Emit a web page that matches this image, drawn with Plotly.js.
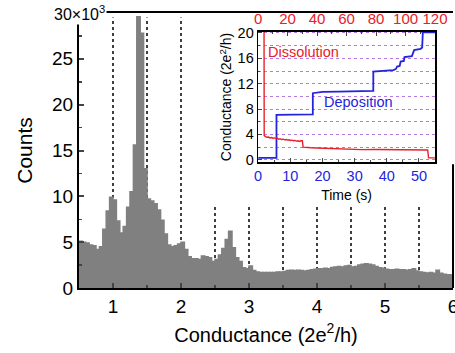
<!DOCTYPE html>
<html><head><meta charset="utf-8">
<script src="https://cdn.plot.ly/plotly-3.0.1.min.js"></script>
<style>html,body{margin:0;padding:0;background:#fff}</style>
</head><body><div id="chart" style="width:455px;height:353px"></div>
<script>
// Histogram: first bin centre and bin width (conductance, 2e^2/h)
const firstBinCenter = 0.525;
const binWidth = 0.05;
const counts = [
  5100,5000,4900,4700,4600,4200,4500,6400,8400,9900,9600,7300,6000,6700,
  8800,10500,15600,29600,27800,13000,
  9700,9500,9200,8500,7400,5900,4700,4500,4600,4800,
  5000,4200,3400,3200,3200,3100,3500,3400,3300,2900,
  3100,3600,4300,5300,6200,4400,3300,2900,2200,2100,
  2400,1900,1750,1700,1700,1700,1700,1700,1750,1750,
  1800,1900,1950,1900,1950,1900,1850,1900,2000,2050,
  2100,2100,2150,2100,2250,2300,2350,2300,2400,2450,
  2300,2350,2500,2600,2650,2600,2500,2350,2200,2150,
  2050,2000,2000,2050,2000,2000,1950,2000,2100,1850,
  1750,1700,1650,1700,1600,1950,1600,1500,1450,1450
];
const refLinePos = [1,1.5,2,2.5,3,3.5,4,4.5,5,5.5];
const refLineTop = [29500,29500,29500,9000,9000,9000,9000,9000,9000,9000];
const yTickVals = [0,5000,10000,15000,20000,25000];
const yTickText = ['0','5','10','15','20','25'];
const xTickVals = [1,2,3,4,5,6];

// Inset: dissolution (top time axis, 0-120) and deposition (bottom time axis, 0-55 s)
const dissTime = [4.0,4.1,5,6,7,8,9,10,11,12,13,14,15,16,17,18,19,20,21,22,23,24,25,26,27,28,29,30,30.5,32,34,36,40,45,50,55,60,70,80,90,100,110,115,115.6,120];
const dissG    = [20.3,3.8,3.65,3.55,3.6,3.45,3.5,3.4,3.45,3.35,3.4,3.25,3.3,3.2,3.25,3.15,3.2,3.1,3.15,3.05,3.1,3.0,3.05,2.95,3.0,2.9,3.0,3.0,2.0,1.95,1.9,1.9,1.85,1.8,1.7,1.65,1.62,1.6,1.62,1.6,1.62,1.6,1.55,0.3,0.3];
const depTime  = [0,5.7,5.7,17.0,17.0,18,20,25,30,35.8,35.8,38,40,42,42.8,43.2,44,44.3,45.3,45.5,47.8,48.5,50.5,51,51.2,55];
const depG     = [0.3,0.3,7.1,7.15,10.5,10.6,10.7,10.75,10.8,10.85,13.9,14.0,14.05,14.15,14.3,14.7,14.8,15.5,15.6,16.2,16.35,17.3,17.5,17.7,20.1,20.1];

const FONT = 'Liberation Sans, Arial, Helvetica, sans-serif';
const RED = '#e8202a', BLUE = '#2424dc', GRID = '#b47ae6';

const traces = [
  {type:'bar', x0:firstBinCenter, dx:binWidth, y:counts, marker:{color:'#808080', line:{width:1.5, color:'#808080'}},
   xaxis:'x', yaxis:'y', hoverinfo:'skip'},
  {type:'scatter', mode:'lines', x:dissTime, y:dissG, xaxis:'x3', yaxis:'y2',
   line:{color:RED, width:1.4}},
  {type:'scatter', mode:'lines', x:depTime, y:depG, xaxis:'x2', yaxis:'y2',
   line:{color:BLUE, width:1.8}}
];

const shapes = refLinePos.map((p,i)=>({type:'line', layer:'below', xref:'x', yref:'y',
  x0:p, x1:p, y0:0, y1:refLineTop[i], line:{color:'#000', width:1.5, dash:'dot'}}));
// right frame edge of the main plot (hidden behind the inset area at the top)
shapes.push({type:'line', xref:'paper', yref:'y', x0:1, x1:1, y0:0, y1:13500, line:{color:'#000', width:2}});

const layout = {
  width:455, height:353, showlegend:false,
  margin:{l:79, r:2, t:13, b:65},
  paper_bgcolor:'#fff', plot_bgcolor:'#fff',
  font:{family:FONT, color:'#000'},
  bargap:0,
  xaxis:{domain:[0,1], range:[0.5,6.0], tickvals:xTickVals, ticks:'inside', ticklen:5, tickwidth:2,
    minor:{dtick:0.5, tick0:0.5, ticks:'inside', ticklen:3, tickwidth:1.5},
    showline:true, linewidth:2, linecolor:'#000', mirror:true, showgrid:false, zeroline:false,
    ticklabeloverflow:'allow',
    tickfont:{size:19}, title:{text:'Conductance (2e<sup>2</sup>/h)', font:{size:20}, standoff:12}},
  yaxis:{domain:[0,1], range:[0,30000], tickvals:yTickVals, ticktext:yTickText, ticks:'inside', ticklen:5, tickwidth:2,
    minor:{dtick:2500, ticks:'inside', ticklen:3, tickwidth:1.5},
    showline:true, linewidth:2, linecolor:'#000', mirror:false, showgrid:false, zeroline:false,
    tickfont:{size:19}, title:{text:'Counts', font:{size:21}, standoff:14}},
  xaxis2:{domain:[0.479,0.952], anchor:'y2', range:[0,55], dtick:10, ticks:'inside', ticklen:4, tickwidth:1,
    minor:{dtick:5, ticks:'inside', ticklen:2},
    showline:true, linewidth:1.5, linecolor:'#000', mirror:true, showgrid:false, zeroline:false,
    tickfont:{size:14.5, color:BLUE}, title:{text:'Time (s)', font:{size:14}, standoff:7}},
  xaxis3:{overlaying:'x2', anchor:'y2', side:'top', range:[0,120], dtick:20, ticks:'inside', ticklen:4, tickwidth:1,
    minor:{dtick:10, ticks:'inside', ticklen:2},
    showline:true, linewidth:1.5, linecolor:'#000', showgrid:false, zeroline:false,
    ticklabeloverflow:'allow',
    tickfont:{size:15, color:RED}},
  yaxis2:{domain:[0.457,0.932], anchor:'x2', range:[-0.4,20.2], dtick:4, ticks:'inside', ticklen:4, tickwidth:1,
    minor:{dtick:2, ticks:'inside', ticklen:2, showgrid:true, gridcolor:GRID, griddash:'dot', gridwidth:1},
    showgrid:true, gridcolor:GRID, griddash:'dot', gridwidth:1,
    showline:true, linewidth:1.5, linecolor:'#000', mirror:true, zeroline:false,
    tickfont:{size:14.5}, title:{text:'Conductance (2e<sup>2</sup>/h)', font:{size:14}, standoff:2}},
  shapes:shapes,
  annotations:[
    {xref:'paper', yref:'paper', x:0, y:1, xanchor:'center', yanchor:'middle', showarrow:false,
     text:'30×10<sup>3</sup>', font:{size:16}, bgcolor:'#fff', borderpad:1},
    {xref:'x3', yref:'y2', x:31, y:17.05, showarrow:false, text:'Dissolution', font:{size:14.5, color:RED}},
    {xref:'x2', yref:'y2', x:31.2, y:9.1, showarrow:false, text:'Deposition', font:{size:14.5, color:BLUE}}
  ]
};
Plotly.newPlot('chart', traces, layout, {displayModeBar:false, staticPlot:true});
</script></body></html>
